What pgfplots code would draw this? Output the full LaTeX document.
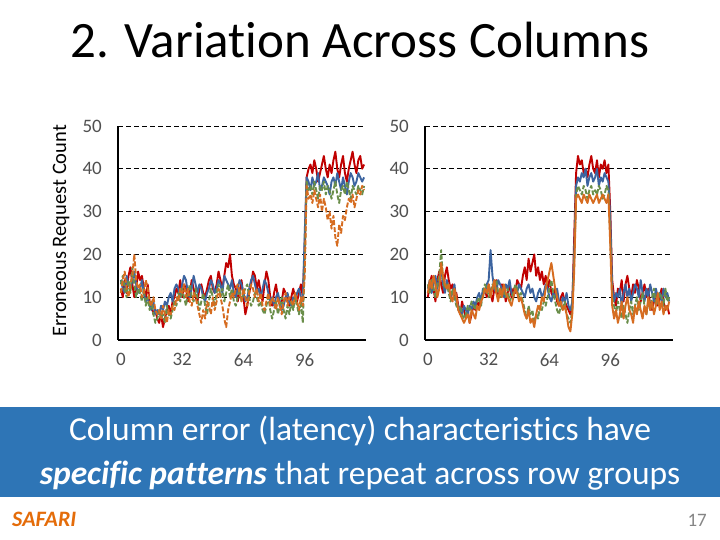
\documentclass[border=0pt]{standalone}
\usepackage{pgfplots}
\pgfplotsset{compat=1.18}
\usepackage{fontspec}
\setmainfont{Carlito}[Ligatures=NoCommon]

\definecolor{sred}{RGB}{192,0,0}
\definecolor{sblue}{RGB}{60,100,160}
\definecolor{sgreen}{RGB}{106,142,74}
\definecolor{sorange}{RGB}{214,108,32}
\definecolor{boxblue}{RGB}{46,117,182}
\definecolor{safari}{RGB}{228,108,10}
\definecolor{ticktext}{RGB}{80,80,80}

\pgfplotsset{colchart/.style={
  scale only axis, width=248pt, height=214pt,
  xmin=-1.5, ymin=0, ymax=50,
  axis x line*=bottom, axis y line*=left,
  axis line style={-, line width=1.7pt, black},
  xtick={0,32,64,96}, ytick={0,10,20,30,40,50},
  major tick length=0pt,
  ymajorgrids, grid style={black, line width=0.8pt, dash pattern=on 5pt off 3pt},
  /pgf/number format/assume math mode=true,
  ticklabel style={font=\fontsize{19}{19}\selectfont, text=ticktext, inner sep=0pt},
  xticklabel style={anchor=north, yshift=-13pt},
  yticklabel style={anchor=east, xshift=-16pt},
  every axis plot/.append style={line width=1.9pt, line join=round},
}}

\begin{document}
\begin{tikzpicture}[x=1pt,y=1pt]
\useasboundingbox (0,0) rectangle (720,540);
\fill[white] (0,0) rectangle (720,540);

\node[anchor=base, font=\fontsize{51}{51}\selectfont] at (360,482) {2. Variation Across Columns};
\node[rotate=90, anchor=base, font=\fontsize{20.5}{20.5}\selectfont] at (66,309) {Erroneous Request Count};

% left chart
\begin{axis}[colchart, at={(118pt,200pt)}, anchor=south west, xmax=128]
\addplot[sred] table[x expr=\coordindex, y index=0, header=false, row sep=\\] {
12\\10\\14\\11\\15\\17\\13\\10\\12\\16\\
14\\15\\12\\10\\13\\9\\8\\6\\7\\5\\
4\\6\\3\\5\\7\\8\\6\\9\\10\\12\\
11\\14\\10\\13\\12\\9\\11\\14\\12\\10\\
9\\12\\13\\11\\10\\12\\14\\15\\12\\11\\
13\\16\\14\\12\\15\\18\\17\\20\\15\\13\\
12\\9\\11\\14\\10\\6\\8\\11\\13\\16\\
15\\12\\14\\11\\9\\13\\16\\14\\10\\8\\
11\\13\\10\\8\\9\\12\\11\\9\\8\\10\\
12\\10\\9\\11\\13\\10\\22\\
38\\40\\41\\39\\42\\40\\37\\39\\41\\43\\
40\\38\\41\\39\\42\\44\\40\\38\\41\\43\\
39\\37\\40\\42\\44\\41\\39\\42\\43\\40\\41\\
};
\addplot[sblue] table[x expr=\coordindex, y index=0, header=false, row sep=\\] {
14\\12\\11\\15\\13\\12\\14\\16\\13\\11\\
12\\14\\11\\9\\10\\8\\7\\9\\6\\7\\
6\\8\\7\\9\\8\\10\\11\\9\\12\\13\\
12\\10\\13\\15\\14\\11\\10\\12\\15\\13\\
11\\13\\12\\10\\9\\11\\12\\14\\13\\11\\
12\\14\\13\\11\\15\\14\\13\\12\\14\\11\\
10\\12\\14\\13\\11\\9\\10\\12\\14\\15\\
13\\11\\12\\10\\12\\14\\13\\11\\9\\10\\
8\\10\\11\\9\\7\\8\\10\\11\\9\\8\\
10\\9\\11\\12\\10\\9\\25\\
38\\37\\35\\38\\36\\37\\39\\35\\36\\38\\
37\\36\\34\\37\\38\\36\\39\\37\\35\\38\\
36\\34\\37\\39\\38\\36\\37\\39\\38\\37\\38\\
};
\addplot[sgreen, dash pattern=on 5pt off 2pt] table[x expr=\coordindex, y index=0, header=false, row sep=\\] {
13\\15\\12\\10\\14\\11\\17\\13\\10\\12\\
11\\9\\12\\8\\10\\7\\9\\6\\4\\5\\
7\\5\\6\\4\\8\\6\\5\\7\\9\\8\\
11\\9\\12\\10\\8\\11\\13\\10\\9\\12\\
10\\7\\9\\11\\8\\6\\9\\12\\10\\8\\
11\\13\\10\\12\\9\\11\\13\\10\\12\\9\\
8\\10\\12\\9\\11\\12\\13\\10\\8\\9\\
11\\10\\8\\9\\7\\6\\8\\10\\7\\5\\
7\\9\\6\\8\\10\\7\\5\\8\\6\\9\\
7\\10\\8\\6\\9\\4\\18\\
37\\35\\36\\34\\37\\35\\33\\36\\35\\37\\
34\\36\\35\\33\\35\\37\\34\\32\\35\\36\\
34\\37\\35\\33\\36\\35\\34\\36\\35\\34\\36\\
};
\addplot[sorange, dash pattern=on 5pt off 2pt] table[x expr=\coordindex, y index=0, header=false, row sep=\\] {
11\\14\\16\\12\\10\\13\\15\\20\\14\\12\\
13\\10\\11\\14\\12\\9\\8\\10\\7\\6\\
7\\5\\8\\6\\4\\7\\6\\8\\7\\10\\
9\\12\\11\\13\\10\\12\\9\\8\\11\\10\\
8\\6\\4\\7\\5\\9\\8\\6\\10\\7\\
9\\12\\10\\8\\5\\3\\7\\9\\11\\10\\
12\\13\\11\\9\\12\\10\\8\\11\\13\\12\\
10\\12\\9\\11\\8\\7\\9\\11\\8\\10\\
9\\7\\10\\8\\6\\9\\11\\8\\10\\9\\
8\\11\\9\\7\\10\\8\\15\\
36\\33\\34\\32\\35\\33\\31\\34\\30\\33\\
31\\28\\30\\26\\29\\24\\22\\27\\25\\29\\
28\\31\\33\\32\\34\\31\\33\\35\\34\\36\\35\\
};
\end{axis}

% right chart
\begin{axis}[colchart, at={(425pt,200pt)}, anchor=south west, xmax=129]
\addplot[sred] table[x expr=\coordindex, y index=0, header=false, row sep=\\] {
10\\13\\15\\12\\9\\14\\16\\13\\11\\15\\
17\\14\\12\\13\\10\\11\\8\\6\\9\\7\\
5\\7\\4\\6\\8\\7\\9\\8\\10\\11\\
12\\10\\13\\11\\9\\12\\14\\10\\11\\13\\
12\\9\\11\\13\\10\\12\\11\\14\\13\\12\\
15\\17\\14\\19\\16\\18\\20\\15\\17\\14\\
16\\13\\15\\12\\14\\11\\10\\12\\9\\8\\
10\\11\\9\\8\\7\\6\\8\\24\\39\\43\\
41\\42\\39\\40\\38\\41\\43\\40\\39\\42\\
38\\41\\40\\42\\39\\41\\30\\14\\
10\\8\\12\\11\\14\\9\\13\\15\\12\\10\\
13\\11\\14\\12\\9\\11\\13\\10\\12\\8\\
7\\9\\11\\8\\10\\12\\9\\7\\8\\6\\
};
\addplot[sblue] table[x expr=\coordindex, y index=0, header=false, row sep=\\] {
12\\14\\11\\13\\15\\12\\14\\17\\13\\11\\
14\\12\\10\\11\\13\\9\\8\\7\\6\\8\\
7\\6\\8\\7\\9\\8\\10\\11\\9\\12\\
11\\13\\14\\21\\15\\12\\11\\14\\13\\12\\
10\\13\\12\\14\\11\\10\\12\\11\\13\\12\\
11\\10\\12\\13\\11\\12\\10\\9\\11\\12\\
10\\11\\13\\12\\10\\9\\11\\10\\12\\9\\
8\\10\\9\\11\\8\\7\\9\\20\\36\\38\\
37\\39\\38\\40\\36\\38\\39\\37\\38\\40\\
36\\38\\37\\39\\38\\37\\28\\12\\
9\\11\\10\\12\\8\\11\\13\\10\\12\\9\\
11\\13\\12\\10\\14\\11\\9\\12\\10\\13\\
11\\9\\12\\10\\11\\9\\12\\10\\11\\9\\
};
\addplot[sgreen, dash pattern=on 5pt off 2pt] table[x expr=\coordindex, y index=0, header=false, row sep=\\] {
13\\11\\14\\12\\10\\13\\15\\21\\14\\12\\
13\\11\\9\\12\\10\\8\\7\\8\\6\\5\\
6\\8\\7\\9\\8\\7\\9\\10\\8\\11\\
13\\12\\10\\11\\13\\12\\14\\11\\10\\12\\
11\\10\\12\\9\\10\\11\\13\\12\\10\\11\\
9\\7\\5\\8\\6\\7\\4\\6\\5\\8\\
7\\9\\8\\10\\12\\14\\11\\9\\7\\6\\
8\\7\\9\\6\\5\\4\\7\\18\\34\\36\\
35\\34\\36\\35\\33\\35\\36\\34\\35\\34\\
36\\35\\33\\34\\36\\35\\24\\10\\
8\\6\\9\\7\\5\\8\\6\\4\\7\\9\\
6\\8\\10\\7\\9\\11\\8\\6\\9\\7\\
10\\12\\8\\9\\11\\10\\8\\12\\9\\10\\
};
\addplot[sorange] table[x expr=\coordindex, y index=0, header=false, row sep=\\] {
11\\14\\12\\15\\13\\10\\12\\18\\15\\13\\
12\\13\\10\\9\\12\\10\\7\\6\\5\\4\\
5\\6\\4\\7\\6\\5\\8\\7\\9\\10\\
12\\11\\13\\10\\12\\14\\11\\9\\12\\10\\
13\\11\\10\\9\\8\\10\\12\\11\\9\\10\\
8\\6\\5\\7\\4\\5\\3\\6\\8\\7\\
10\\9\\12\\14\\16\\18\\15\\12\\10\\8\\
9\\7\\8\\6\\3\\2\\6\\16\\33\\34\\
33\\32\\34\\33\\32\\34\\33\\32\\33\\34\\
32\\33\\34\\33\\32\\34\\22\\8\\
5\\7\\4\\6\\9\\5\\8\\10\\7\\6\\
4\\8\\6\\9\\7\\5\\8\\6\\10\\7\\
9\\6\\8\\11\\7\\9\\6\\8\\7\\9\\
};
\end{axis}

% caption band and footer
\fill[boxblue] (0,43) rectangle (720,133);
\node[anchor=base, text=white, font=\fontsize{33.5}{33.5}\selectfont] at (360,99) {Column error (latency) characteristics have};
\node[anchor=base, text=white, font=\fontsize{33.5}{33.5}\selectfont] at (360,55) {\textbf{\textit{specific patterns}} that repeat across row groups};
\node[anchor=base west, inner sep=0pt, text=safari, font=\fontsize{22}{22}\selectfont\bfseries\itshape] at (12,13) {SAFARI};
\node[anchor=base east, inner sep=0pt, text=ticktext!70, font=\fontsize{19}{19}\selectfont] at (707,13) {17};
\end{tikzpicture}
\end{document}
